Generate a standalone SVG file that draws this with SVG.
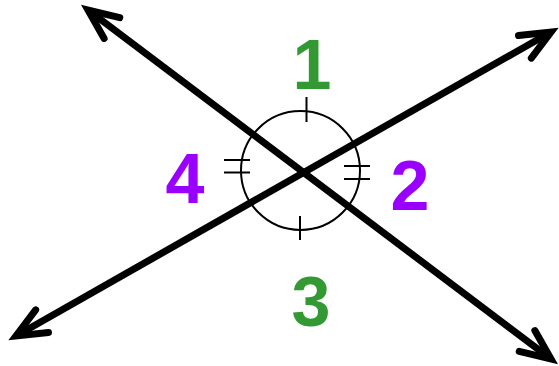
<svg xmlns="http://www.w3.org/2000/svg" width="559" height="366" viewBox="0 0 559 366">
<style>
.ray{stroke:#000;stroke-width:7;fill:none;stroke-linecap:butt}
.thin{stroke:#000;stroke-width:2;fill:none}
.lbl{font-family:"Liberation Sans",Arial,sans-serif;font-weight:bold;font-size:70px;text-anchor:middle}
.g{fill:#339933}
.p{fill:#9900ff}
</style>
<defs>
<marker id="ah" markerUnits="userSpaceOnUse" viewBox="-40 -20 50 40" refX="0" refY="0" markerWidth="50" markerHeight="40" orient="auto-start-reverse" overflow="visible">
<polyline points="-30,-13 0,0 -30,13" fill="none" stroke="#000" stroke-width="7" stroke-linecap="round" stroke-linejoin="miter"/>
</marker>
</defs>
<g id="connectors">
<line class="ray" x1="88" y1="10" x2="551" y2="359" marker-start="url(#ah)" marker-end="url(#ah)"/>
<line class="ray" x1="16" y1="336" x2="551" y2="32" marker-start="url(#ah)" marker-end="url(#ah)"/>
</g>
<g id="circle">
<circle class="thin" cx="300.5" cy="170.5" r="59.5"/>
<line class="thin" x1="306.5" y1="97" x2="306.5" y2="122"/>
<line class="thin" x1="300" y1="216" x2="300" y2="240"/>
<line class="thin" x1="224" y1="160" x2="250" y2="160"/>
<line class="thin" x1="224" y1="172.5" x2="250" y2="172.5"/>
<line class="thin" x1="344" y1="166" x2="370" y2="166"/>
<line class="thin" x1="344" y1="179" x2="370" y2="179"/>
</g>
<g id="label1"><text class="lbl g" x="312" y="89">1</text></g>
<g id="label2"><text class="lbl p" x="410" y="210">2</text></g>
<g id="label3"><text class="lbl g" x="311" y="326">3</text></g>
<g id="label4"><text class="lbl p" x="185" y="203">4</text></g>
</svg>
